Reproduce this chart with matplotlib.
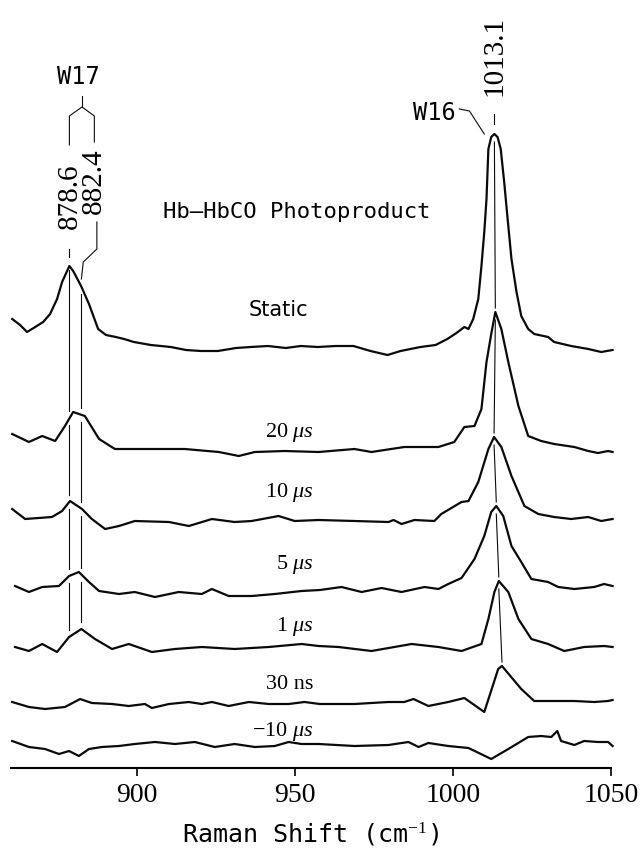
import numpy as np
import matplotlib
matplotlib.use("Agg")
import matplotlib.pyplot as plt

plt.rcParams['mathtext.fontset'] = 'custom'
plt.rcParams['mathtext.rm'] = 'Liberation Serif'
plt.rcParams['mathtext.it'] = 'Liberation Serif:italic'

# ---- spectra: Raman shift (cm-1) and intensity (arb. units, above own baseline) ----
static_x = [860.5, 863.0, 865.2, 867.8, 870.3, 872.5, 874.7, 876.3, 878.6, 879.8, 882.3, 884.8,
            887.7, 890.2, 893.3, 895.9, 899.0, 904.4, 910.7, 915.5, 920.2, 925.6, 931.3, 936.0,
            941.4, 947.1, 951.8, 957.2, 962.9, 968.5, 973.9, 979.3, 983.4, 989.7, 994.5, 998.2,
            1001.1, 1003.6, 1004.9, 1006.4, 1008.0, 1009.0, 1009.9, 1010.6, 1011.2, 1012.1, 1013.1,
            1014.1, 1015.1, 1016.2, 1017.2, 1018.5, 1020.1, 1021.6, 1023.8, 1025.7, 1030.1, 1032.0,
            1037.4, 1042.8, 1046.9, 1050.5]
static_y = [28, 22, 15, 20, 25, 33, 48, 65, 81, 76, 61, 43,
            18, 12, 10, 8, 5, 2, 0, -3, -4, -4, -1, 0,
            1, -1, 1, 0, 1, 1, -4, -8, -4, 0, 2, 8,
            14, 20, 18, 28, 48, 81, 115, 148, 198, 210, 213,
            210, 198, 165, 131, 88, 55, 31, 18, 13, 10, 5,
            1, -2, -5, -3]

us20_x = [860.5, 865.8, 870.0, 874.1, 877.2, 879.8, 883.5, 888.0, 893.0, 904.7, 915.1, 925.9,
          932.2, 937.3, 946.7, 957.5, 968.8, 974.2, 984.6, 995.4, 1000.4, 1003.6, 1006.8, 1009.0,
          1010.6, 1012.1, 1013.4, 1015.3, 1017.5, 1020.7, 1023.8, 1027.9, 1032.0, 1038.4, 1042.8,
          1045.9, 1049.1, 1050.5]
us20_y = [16, 8, 14, 9, 24, 38, 34, 11, 1, 1, 1, -2,
          -6, -2, -1, -2, 1, -2, 3, 3, 8, 23, 24, 41,
          88, 116, 138, 121, 88, 44, 14, 9, 6, 3, -1,
          -3, -1, -2]

us10_x = [860.5, 864.6, 873.1, 876.3, 878.8, 882.6, 885.7, 889.9, 894.3, 899.3, 910.1, 916.4,
          923.7, 930.9, 936.3, 944.8, 949.9, 957.5, 968.8, 979.6, 981.2, 983.7, 987.8, 994.1,
          996.3, 1002.7, 1004.9, 1008.0, 1011.2, 1013.0, 1015.3, 1018.5, 1022.6, 1027.0, 1032.0,
          1037.4, 1042.8, 1046.9, 1050.5]
us10_y = [11, 1, 3, 9, 19, 11, 1, -9, -6, -1, -2, -6,
          1, -2, -1, 4, -1, 0, -1, -2, 0, -4, 0, -1,
          6, 18, 19, 38, 71, 83, 73, 44, 14, 6, 3,
          1, 3, -1, 1]

us5_x = [861.4, 865.8, 870.0, 875.3, 878.5, 881.6, 884.8, 888.0, 894.3, 899.3, 905.7, 913.2,
         920.5, 923.7, 929.0, 936.3, 943.6, 952.1, 957.9, 964.7, 971.1, 977.4, 983.7, 991.0,
         995.4, 998.5, 1002.7, 1006.8, 1009.9, 1012.1, 1013.7, 1015.9, 1018.5, 1021.6, 1024.8,
         1030.1, 1033.3, 1038.4, 1044.7, 1047.8, 1050.5]
us5_y = [3, -3, 2, 3, 13, 17, 7, -2, -5, -3, -8, -3,
         -5, 0, -7, -7, -5, -2, -1, 2, -3, 1, -3, 2,
         0, 5, 11, 30, 53, 77, 83, 73, 43, 27, 10,
         7, 2, 0, 2, 5, 3]

us1_x = [861.4, 865.8, 870.0, 874.7, 878.5, 882.4, 886.7, 892.1, 897.4, 904.7, 912.0, 920.5,
         930.9, 941.7, 952.1, 957.5, 963.8, 974.2, 986.9, 995.4, 1002.7, 1009.0, 1011.2, 1013.1,
         1014.5, 1017.5, 1020.7, 1024.8, 1030.1, 1035.2, 1041.5, 1047.8, 1050.5]
us1_y = [0, -4, 3, -5, 10, 18, 8, -2, 3, -5, -2, 0,
         -2, 0, 3, 1, 0, -4, 3, 0, -4, 3, 28, 55,
         66, 55, 28, 8, 3, -4, 0, 1, 0]

ns30_x = [860.5, 865.8, 870.9, 877.2, 882.0, 885.7, 892.1, 897.4, 902.5, 904.7, 910.1, 916.4,
          920.5, 923.7, 929.0, 935.4, 941.7, 948.0, 953.0, 957.8, 968.8, 979.6, 984.6, 987.5,
          992.2, 998.5, 1003.6, 1009.9, 1014.3, 1015.5, 1021.6, 1025.7, 1032.0, 1038.4, 1044.7,
          1049.1, 1050.5]
ns30_y = [1, -4, -6, -4, 4, 0, -1, -3, -1, -5, -1, 1,
          -1, 1, -3, 1, -1, -1, 1, -1, -1, 1, 1, 4,
          -3, 1, 5, -9, 34, 37, 14, 2, 2, 2, 1,
          2, 3]

neg10_x = [860.5, 865.8, 870.9, 875.3, 878.5, 881.6, 884.8, 888.9, 894.3, 899.3, 905.7, 912.0,
           918.3, 924.6, 930.9, 937.3, 943.6, 948.0, 952.1, 957.5, 968.8, 979.6, 985.9, 989.1,
           992.2, 998.5, 1004.9, 1012.1, 1017.5, 1023.8, 1027.9, 1031.1, 1033.0, 1034.2, 1038.4,
           1041.5, 1045.9, 1049.1, 1050.5]
neg10_y = [4, -2, -4, -9, -6, -11, -4, -2, -1, 1, 3, 1,
           3, -2, 1, -2, -1, 3, 1, 1, -1, 0, 3, -2,
           2, -1, -3, -14, -4, 8, 9, 8, 14, 4, 0,
           4, 3, 3, -1]

spectra_x = [static_x, us20_x, us10_x, us5_x, us1_x, ns30_x, neg10_x]
spectra_y = [static_y, us20_y, us10_y, us5_y, us1_y, ns30_y, neg10_y]
labels = ['Static', '20 $\\mu s$', '10 $\\mu s$', '5 $\\mu s$', '1 $\\mu s$', '30 ns',
          '\u221210 $\\mu s$']

# W16 band centre in each of the first six spectra (cm-1)
w16_peaks = [1013.1, 1013.4, 1013.0, 1013.7, 1014.5, 1015.5]
w17_bands = [878.6, 882.4]
w16_band = 1013.1

# ---- layout ----
offsets = [421, 318, 248, 179, 121, 65, 23]
label_y = [459, 336, 276, 204, 142, 84, 37]

fig = plt.figure(figsize=(6.43, 8.53), dpi=100)
ax = fig.add_axes([10.6 / 643, 84 / 853, 600.4 / 643, 769 / 853])
ax.set_xlim(860, 1050)
ax.set_ylim(0, 769)

ink = '#0a0a0a'
for xs, ys, off in zip(spectra_x, spectra_y, offsets):
    ax.plot(xs, np.asarray(ys) + off, color=ink, lw=1.6, clip_on=False,
            solid_joinstyle='round')


def level(i, x):
    return np.interp(x, spectra_x[i], spectra_y[i]) + offsets[i]


# guide lines through the W17 doublet (static .. 1 us)
gap = 7
for xb in w17_bands:
    for i in range(4):
        top = level(i, xb) - gap
        bot = level(i + 1, xb) + gap
        if i == 0 and xb == w17_bands[0]:
            top = level(0, xb) - 4
        ax.plot([xb, xb], [top, bot], color=ink, lw=0.8)

# guide line following the W16 peak (static .. 30 ns)
for i in range(5):
    x0, x1 = w16_peaks[i], w16_peaks[i + 1]
    ax.plot([x0, x1], [level(i, x0) - 8, level(i + 1, x1) + 4], color=ink, lw=0.8)

# ---- peak annotations ----
num_font = dict(family='Liberation Serif', fontsize=21)
type_font = dict(family='DejaVu Sans Mono')

# 878.6
ax.plot([878.6, 878.6], [511, 519], color=ink, lw=0.8)
ax.text(878.6, 573, f'{w17_bands[0]:.1f}', rotation=90, ha='center', va='center', **num_font)
# 882.4 with leader
ax.plot([887.3, 887.3, 883.0, 882.4], [546, 519, 506, 489], color=ink, lw=0.8)
ax.text(886.2, 588, f'{w17_bands[1]:.1f}', rotation=90, ha='center', va='center', **num_font)
# W17 bracket
ax.plot([878.6, 878.6, 882.6, 886.5, 886.5], [623, 652, 661, 652, 626], color=ink, lw=0.8)
ax.plot([882.6, 882.6], [661, 672], color=ink, lw=0.8)
ax.text(881.6, 692, 'W17', ha='center', va='center', fontsize=17, **type_font)

# 1013.1
ax.plot([w16_band, w16_band], [644, 654], color=ink, lw=0.8)
ax.text(w16_band, 713, f'{w16_band:.1f}', rotation=90, ha='center', va='center', **num_font)
# W16 leader
ax.plot([1002.0, 1005.2, 1009.9], [659, 657, 634], color=ink, lw=0.8)
ax.text(994.0, 656, 'W16', ha='center', va='center', fontsize=17, **type_font)

ax.text(950.4, 557, 'Hb\u2013HbCO Photoproduct', ha='center', va='center', fontsize=16,
        **type_font)

# spectrum labels
ax.text(944.8, label_y[0], labels[0], ha='center', va='center', fontsize=15,
        family='DejaVu Sans')
for lab, ly in zip(labels[1:], label_y[1:]):
    ax.text(955.9, ly, lab, ha='right', va='center', family='Liberation Serif', fontsize=16)

# ---- axis ----
for s in ['left', 'right', 'top']:
    ax.spines[s].set_visible(False)
ax.spines['bottom'].set_linewidth(1.5)
ax.set_yticks([])
ax.set_xticks([900, 950, 1000, 1050])
ax.tick_params(axis='x', direction='out', length=6, width=1.2, pad=4, labelsize=20)
for t in ax.get_xticklabels():
    t.set_family('Liberation Serif')
ax.set_xlabel('Raman Shift (cm$^{-1}$)', fontsize=18, family='DejaVu Sans Mono', labelpad=9)

fig.savefig('out.png', dpi=100)
